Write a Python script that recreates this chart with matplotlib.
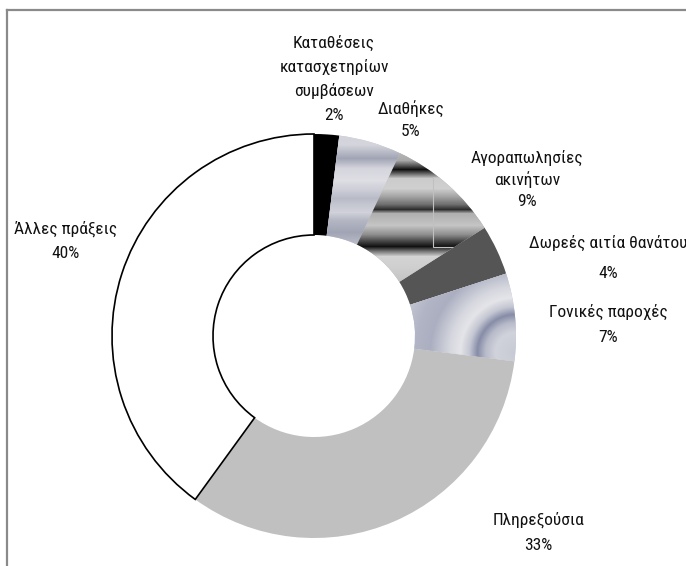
import numpy as np
import matplotlib
matplotlib.use("Agg")
import matplotlib.pyplot as plt
from matplotlib.lines import Line2D

# ---- data ----
categories = ["Καταθέσεις\nκατασχετηρίων\nσυμβάσεων", "Διαθήκες", "Αγοραπωλησίες\nακινήτων",
              "Δωρεές αιτία θανάτου", "Γονικές παροχές", "Πληρεξούσια", "Άλλες πράξεις"]
values = [2, 5, 9, 4, 7, 33, 40]
pct_labels = ["2%", "5%", "9%", "4%", "7%", "33%", "40%"]

plt.rcParams['font.family'] = ['Roboto Condensed', 'DejaVu Sans']

W, H = 686, 566
fig = plt.figure(figsize=(W / 100, H / 100), dpi=100)
ax = fig.add_axes([0, 0, 1, 1])
ax.set_axis_off()

def py(y):
    return H - y

cx, cy, R = 314, 336, 202
base_colors = ["#000000", "#c8c8d0", "#b0b0b0", "#555555", "#c0c4d0", "#c0c0c0", "#ffffff"]
wedges, _ = ax.pie(values, colors=base_colors, startangle=90, counterclock=False,
                   center=(cx, py(cy)), radius=R, frame=True,
                   wedgeprops=dict(width=R * 0.5, linewidth=0))
wedges[6].set_edgecolor("black")
wedges[6].set_linewidth(1.2)
wedges[6].set_zorder(3)

# gradient fills
yy, xx = np.mgrid[0:H, 0:W].astype(float)

def band(points, coord):
    p = np.array(points, float)
    return np.interp(coord, p[:, 0], p[:, 1])

def tinted(t, dark, light):
    dark = np.array(dark); light = np.array(light)
    return dark[None, None, :] * (1 - t[..., None]) + light[None, None, :] * t[..., None]

# Διαθήκες : horizontal metallic bands
t1 = band([(130, 0.8), (144, 0.85), (158, 0.3), (168, 0.85), (180, 0.95), (190, 0.75),
           (198, 0.55), (205, 0.7), (212, 0.8), (220, 0.5), (232, 0.3), (245, 0.6)], yy)
img1 = tinted(t1, (0.52, 0.54, 0.62), (0.89, 0.89, 0.91))
# Αγοραπωλησίες : strong horizontal stripes
t2 = band([(150, 0.8), (160, 0.72), (165, 0.35), (169, 0.02), (173, 0.4), (178, 0.88), (188, 0.9),
           (196, 0.7), (204, 0.45), (209, 0.15), (213, 0.75), (225, 0.85), (234, 0.6), (240, 0.3),
           (246, 0.02), (251, 0.5), (256, 0.92), (266, 0.9), (280, 0.85)], yy)
img2 = tinted(t2, (0.05, 0.05, 0.05), (0.9, 0.9, 0.9))
# Γονικές παροχές : radial rings
rr = np.hypot(xx - 515, yy - 352)
t3 = band([(0, 0.72), (20, 0.8), (30, 0.6), (38, 0.22), (46, 0.7), (55, 0.95), (65, 0.85),
           (85, 0.5), (100, 0.55), (118, 0.7)], rr)
img3 = tinted(t3, (0.42, 0.45, 0.58), (0.92, 0.92, 0.93))

for w, img in [(wedges[1], img1), (wedges[2], img2), (wedges[4], img3)]:
    im = ax.imshow(np.clip(img, 0, 1), extent=(0, W, 0, H), origin='upper',
                   interpolation='bilinear', zorder=2)
    im.set_clip_path(w)

# faint rectangle artifact in the 9% slice
rect = plt.Rectangle((433, py(247)), 70, 70, fill=False, edgecolor="#c0c0c0",
                     linewidth=0.8, zorder=2.5)
ax.add_patch(rect)
rect.set_clip_path(wedges[2])

ax.set_xlim(0, W)
ax.set_ylim(0, H)
ax.set_aspect('auto')

# frame
ax.add_line(Line2D([7, W], [py(10), py(10)], color="#8a8a8a", linewidth=1.6, zorder=5))
ax.add_line(Line2D([7, 7], [py(10), 0], color="#8a8a8a", linewidth=1.6, zorder=5))

# labels (pixel centres)
fs = 12.5
label_pos = [(334, [42.7, 66.7, 90.7, 115]),
             (411, [109, 131]),
             (527, [158, 180, 202]),
             (608, [243, 273]),
             (608, [312, 337]),
             (538, [520, 545]),
             (66, [229, 254])]
for cat, pct, (x, ys) in zip(categories, pct_labels, label_pos):
    lines = cat.split("\n") + [pct]
    for line, y in zip(lines, ys):
        ax.text(x, py(y), line, ha='center', va='center', fontsize=fs, color="#111111", zorder=6)

fig.savefig("out.png", dpi=100)
